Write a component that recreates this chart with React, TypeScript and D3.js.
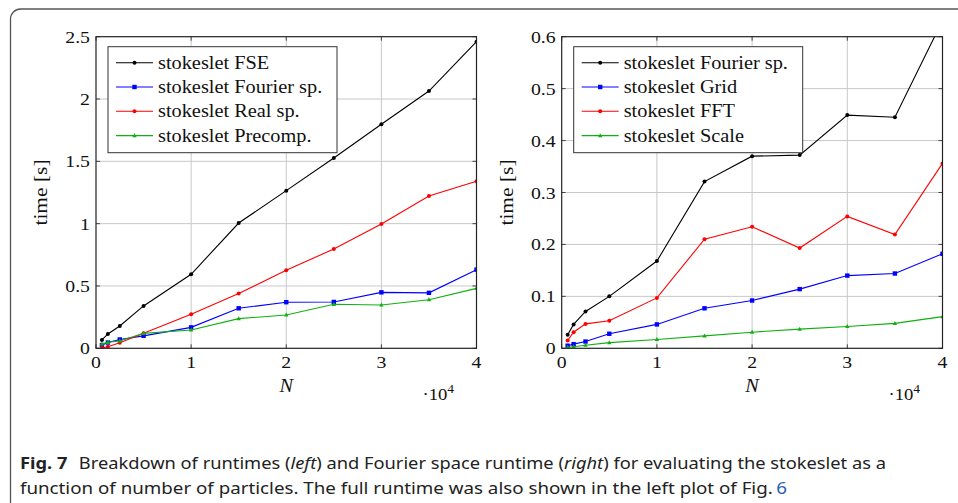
import React from 'react';
import * as d3 from 'd3';

// particle counts (x axis)
const N = [625, 1250, 2500, 5000, 10000, 15000, 20000, 25000, 30000, 35000, 40000];

// left plot: breakdown of runtimes
const fse = [0.067, 0.115, 0.179, 0.34, 0.594, 1.005, 1.265, 1.527, 1.797, 2.064, 2.46];
const fourierSp = [0.026, 0.046, 0.071, 0.1, 0.168, 0.321, 0.37, 0.372, 0.449, 0.445, 0.631];
const realSp = [0.005, 0.013, 0.045, 0.12, 0.273, 0.439, 0.626, 0.797, 0.997, 1.222, 1.34];
const precomp = [0.035, 0.048, 0.059, 0.12, 0.147, 0.238, 0.267, 0.353, 0.348, 0.39, 0.481];

// right plot: Fourier space runtime
const grid = [0.005, 0.008, 0.013, 0.028, 0.046, 0.077, 0.092, 0.114, 0.14, 0.144, 0.182];
const fft = [0.015, 0.031, 0.047, 0.053, 0.097, 0.21, 0.234, 0.193, 0.254, 0.219, 0.356];
const scale = [0.002, 0.003, 0.006, 0.011, 0.017, 0.024, 0.031, 0.037, 0.042, 0.048, 0.061];

const xTicks = [0, 10000, 20000, 30000, 40000];
const leftYTicks = [0, 0.5, 1, 1.5, 2, 2.5];
const rightYTicks = [0, 0.1, 0.2, 0.3, 0.4, 0.5, 0.6];

const leftSeries = [
  { name: 'stokeslet FSE', values: fse, color: '#000000', mark: 'circle' },
  { name: 'stokeslet Fourier sp.', values: fourierSp, color: '#0000ff', mark: 'square' },
  { name: 'stokeslet Real sp.', values: realSp, color: '#ff0000', mark: 'circle' },
  { name: 'stokeslet Precomp.', values: precomp, color: '#10b010', mark: 'triangle' },
];

const rightSeries = [
  { name: 'stokeslet Fourier sp.', values: fourierSp, color: '#000000', mark: 'circle' },
  { name: 'stokeslet Grid', values: grid, color: '#0000ff', mark: 'square' },
  { name: 'stokeslet FFT', values: fft, color: '#ff0000', mark: 'circle' },
  { name: 'stokeslet Scale', values: scale, color: '#10b010', mark: 'triangle' },
];

const SERIF = '"Liberation Serif", "DejaVu Serif", serif';
// Liberation Serif is narrower than Computer Modern, stretch it a bit
const WIDEN = 1.13;

type Series = { name: string; values: number[]; color: string; mark: string };

function SText({ x, y, anchor = 'start', size = 17, rotate = 0, italic = false, children }: {
  x: number; y: number; anchor?: string; size?: number; rotate?: number; italic?: boolean; children: React.ReactNode;
}) {
  return (
    <text
      transform={`translate(${x},${y}) rotate(${rotate}) scale(${WIDEN},1)`}
      textAnchor={anchor}
      fontFamily={SERIF}
      fontSize={size}
      fontStyle={italic ? 'italic' : 'normal'}
      fill="#111"
    >
      {children}
    </text>
  );
}

function Marker({ x, y, color, mark }: { x: number; y: number; color: string; mark: string }) {
  if (mark === 'square') return <rect x={x - 2.2} y={y - 2.2} width={4.4} height={4.4} fill={color} />;
  if (mark === 'triangle') {
    const p = `${x},${y - 2.4} ${x - 2.2},${y + 1.6} ${x + 2.2},${y + 1.6}`;
    return <polygon points={p} fill={color} />;
  }
  return <circle cx={x} cy={y} r={2} fill={color} />;
}

function Panel({ id, left, right, top, bottom, yMax, yTicks, series, labelLeft }: {
  id: string; left: number; right: number; top: number; bottom: number;
  yMax: number; yTicks: number[]; series: Series[]; labelLeft: number;
}) {
  const x = d3.scaleLinear().domain([0, 40000]).range([left, right]);
  const y = d3.scaleLinear().domain([0, yMax]).range([bottom, top]);
  const line = d3.line<number>().x((_, i) => x(N[i])).y((d) => y(d));
  const cx = (left + right) / 2;
  const cy = (top + bottom) / 2;
  const lgX = left + 12;
  const lgY = top + 10;

  return (
    <g>
      <defs>
        <clipPath id={id}>
          <rect x={left} y={top} width={right - left} height={bottom - top} />
        </clipPath>
      </defs>
      {/* grid */}
      {xTicks.slice(1, -1).map((t) => (
        <line key={'gx' + t} x1={x(t)} x2={x(t)} y1={top} y2={bottom} stroke="#c8c8c8" strokeWidth={1} />
      ))}
      {yTicks.slice(1, -1).map((t) => (
        <line key={'gy' + t} x1={left} x2={right} y1={y(t)} y2={y(t)} stroke="#c8c8c8" strokeWidth={1} />
      ))}
      {/* ticks */}
      {xTicks.map((t) => (
        <g key={'tx' + t}>
          <line x1={x(t)} x2={x(t)} y1={bottom} y2={bottom - 4} stroke="#444" />
          <line x1={x(t)} x2={x(t)} y1={top} y2={top + 4} stroke="#444" />
          <SText x={x(t)} y={368} anchor="middle" size={17.5}>{t / 10000}</SText>
        </g>
      ))}
      {yTicks.map((t) => (
        <g key={'ty' + t}>
          <line x1={left} x2={left + 4} y1={y(t)} y2={y(t)} stroke="#444" />
          <line x1={right} x2={right - 4} y1={y(t)} y2={y(t)} stroke="#444" />
          <SText x={left - 6} y={y(t) + 6} anchor="end" size={17.5}>{String(t)}</SText>
        </g>
      ))}
      {/* series */}
      <g clipPath={`url(#${id})`}>
        {series.map((s) => (
          <g key={s.name}>
            <path d={line(s.values) || ''} fill="none" stroke={s.color} strokeWidth={1.1} />
            {s.values.map((v, i) => (
              <Marker key={i} x={x(N[i])} y={y(v)} color={s.color} mark={s.mark} />
            ))}
          </g>
        ))}
      </g>
      <rect x={left} y={top} width={right - left} height={bottom - top} fill="none" stroke="#222" strokeWidth={1.2} />
      {/* legend */}
      <rect x={lgX} y={lgY} width={229} height={106} fill="#fff" stroke="#333" strokeWidth={1} />
      {series.map((s, i) => {
        const ly = lgY + 16 + i * 24.3;
        return (
          <g key={'lg' + s.name}>
            <line x1={lgX + 8} x2={lgX + 45} y1={ly} y2={ly} stroke={s.color} strokeWidth={1.1} />
            <Marker x={lgX + 26.5} y={ly} color={s.color} mark={s.mark} />
            <SText x={lgX + 50} y={ly + 6} size={18}>{s.name}</SText>
          </g>
        );
      })}
      {/* axis labels */}
      <SText x={labelLeft} y={cy} anchor="middle" rotate={-90} size={19}>time [s]</SText>
      <SText x={cx} y={392} anchor="middle" italic size={18}>N</SText>
      <SText x={right - 54} y={400} size={16.5}>
        ·10<tspan fontSize={12} dy={-7}>4</tspan>
      </SText>
    </g>
  );
}

export default function App() {
  return (
    <svg width={958} height={503} style={{ position: 'absolute', left: 0, top: 0, background: '#fff' }}>
      <rect x={10.5} y={9} width={980} height={520} rx={10} fill="none" stroke="#555" strokeWidth={1.3} />
      <Panel id="clipL" left={96} right={476.5} top={36.7} bottom={348.3} yMax={2.5} yTicks={leftYTicks}
        series={leftSeries} labelLeft={47} />
      <Panel id="clipR" left={561.7} right={942.5} top={36.7} bottom={348.3} yMax={0.6} yTicks={rightYTicks}
        series={rightSeries} labelLeft={513} />
      <text x={20} y={469} fontFamily='"Noto Sans", sans-serif' fontSize={16} fill="#222" textLength={866} lengthAdjust="spacingAndGlyphs">
        <tspan fontWeight="bold">Fig. 7</tspan>
        <tspan dx={10}>Breakdown of runtimes (</tspan>
        <tspan fontStyle="italic">left</tspan>
        <tspan>) and Fourier space runtime (</tspan>
        <tspan fontStyle="italic">right</tspan>
        <tspan>) for evaluating the stokeslet as a</tspan>
      </text>
      <text x={20} y={494} fontFamily='"Noto Sans", sans-serif' fontSize={16} fill="#222" textLength={767} lengthAdjust="spacingAndGlyphs">
        function of number of particles. The full runtime was also shown in the left plot of Fig.
        <tspan fill="#2a5db0" dx={3}>6</tspan>
      </text>
    </svg>
  );
}
